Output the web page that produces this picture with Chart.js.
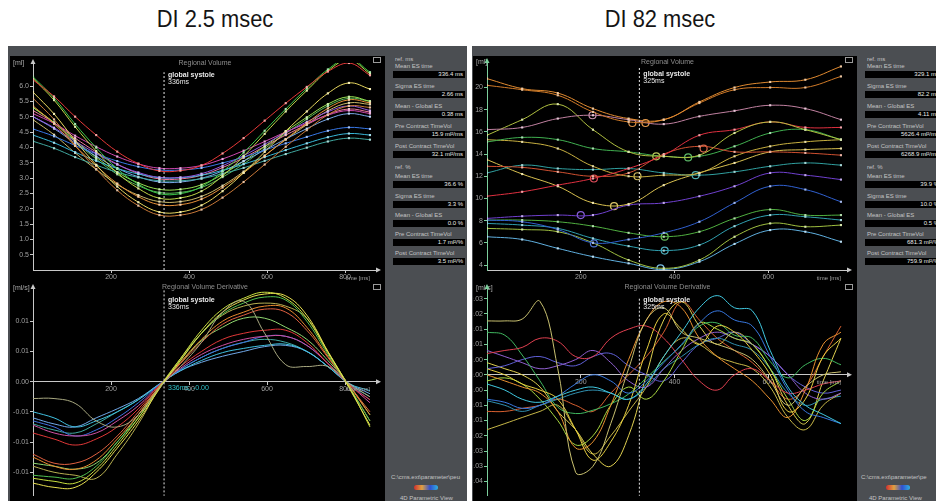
<!DOCTYPE html>
<html><head><meta charset="utf-8">
<script src="https://cdn.jsdelivr.net/npm/chart.js@4.4.1/dist/chart.umd.min.js"></script>
<style>
body{margin:0;width:936px;height:501px;background:#fff;position:relative;overflow:hidden;font-family:"Liberation Sans",Arial,sans-serif;}
.title{position:absolute;top:6px;width:240px;text-align:center;font-size:23px;color:#151515;transform:scaleX(0.95);}
.frame{position:absolute;background:#4b4e52;}
.black{position:absolute;background:#000;}
canvas{position:absolute;}
.lab{position:absolute;font-size:6px;line-height:7px;color:#c4c4c4;white-space:nowrap;}
.box{position:absolute;height:7px;background:#000;color:#eaeaea;font-size:6px;line-height:7px;text-align:right;box-sizing:border-box;padding-right:2px;white-space:nowrap;overflow:hidden;}
.logo{position:absolute;width:24px;height:5px;border-radius:3px;background:linear-gradient(90deg,#d03030,#e0a040,#3050d0,#30b0e0);}
</style></head>
<body>
<div class="title" style="left:95px">DI 2.5 msec</div>
<div class="title" style="left:540px">DI 82 msec</div>
<div class="frame" style="left:8px;top:46px;width:459px;height:455px"></div>
<div class="frame" style="left:472px;top:46px;width:464px;height:455px"></div>
<div class="black" style="left:10px;top:56px;width:375px;height:445px"></div>
<div class="black" style="left:473px;top:56px;width:384px;height:445px"></div>
<canvas id="lv" width="375" height="227" style="left:10px;top:55px"></canvas>
<canvas id="ld" width="375" height="219" style="left:10px;top:282px"></canvas>
<canvas id="rv" width="384" height="227" style="left:473px;top:55px"></canvas>
<canvas id="rd" width="384" height="219" style="left:473px;top:282px"></canvas>
<div id="side"></div>
<script>
// ---------------- DATA ----------------
// Left (DI 2.5 msec) regional volume [ml], frames every 54 ms
const T_LV = [0,54,108,162,216,270,324,378,432,486,540,594,648,702,756,810,864];
const LV_RED     = [6.2,5.66,5.0,4.4,3.86,3.47,3.23,3.24,3.41,3.8,4.3,4.87,5.44,5.97,6.47,6.75,6.35];
const LV_GREEN   = [6.3,5.61,4.76,3.99,3.3,2.8,2.49,2.49,2.72,3.21,3.83,4.54,5.25,5.92,6.54,6.9,6.45];
const LV_YGREEN  = [6.25,5.54,4.67,3.88,3.17,2.66,2.34,2.35,2.57,3.07,3.71,4.44,5.17,5.85,6.49,6.85,6.4];
const LV_YELLOW  = [5.8,5.09,4.22,3.43,2.72,2.21,1.89,1.89,2.11,2.57,3.17,3.85,4.53,5.17,5.76,6.1,5.9];
const LV_ORANGE  = [5.35,4.77,4.05,3.4,2.82,2.39,2.13,2.13,2.31,2.69,3.17,3.72,4.27,4.79,5.27,5.55,5.45];
const LV_BROWN   = [5.6,4.91,4.06,3.29,2.6,2.1,1.79,1.79,1.97,2.36,2.87,3.44,4.02,4.56,5.06,5.35,5.3];
const LV_MAGENTA = [5.1,4.78,4.38,4.02,3.7,3.46,3.32,3.32,3.41,3.62,3.89,4.19,4.5,4.78,5.05,5.2,5.1];
const LV_PURPLE  = [5.0,4.64,4.2,3.8,3.44,3.18,3.02,3.02,3.14,3.4,3.73,4.1,4.48,4.83,5.16,5.35,5.2];
const LV_BLUE    = [4.6,4.36,4.06,3.79,3.55,3.37,3.26,3.26,3.33,3.49,3.68,3.91,4.13,4.34,4.54,4.65,4.6];
const LV_CYAN    = [4.4,4.15,3.84,3.56,3.31,3.13,3.01,3.01,3.09,3.25,3.45,3.68,3.91,4.13,4.33,4.45,4.4];
const LV_TEAL    = [4.2,3.97,3.68,3.42,3.19,3.02,2.91,2.91,2.98,3.14,3.33,3.56,3.78,3.99,4.19,4.3,4.25];
const LV_LBLUE   = [5.0,4.61,4.14,3.71,3.32,3.04,2.87,2.87,2.99,3.23,3.55,3.91,4.27,4.61,4.92,5.1,5.0];
const LV_LIME    = [5.3,4.81,4.22,3.68,3.19,2.84,2.63,2.63,2.78,3.12,3.55,4.03,4.52,4.98,5.41,5.65,5.5];
const LV_KHAKI   = [4.9,4.41,3.82,3.28,2.79,2.44,2.23,2.23,2.4,2.75,3.21,3.73,4.25,4.74,5.19,5.45,5.4];
const LV_PINK    = [5.2,4.8,4.3,3.85,3.45,3.15,2.97,2.97,3.09,3.34,3.66,4.03,4.4,4.74,5.07,5.25,5.15];
const LV_GREEN2  = [5.3,4.8,4.18,3.62,3.12,2.75,2.53,2.53,2.69,3.03,3.46,3.96,4.45,4.92,5.35,5.6,5.5];
const LV_SERIES = [LV_RED,LV_GREEN,LV_YGREEN,LV_YELLOW,LV_ORANGE,LV_BROWN,LV_MAGENTA,LV_PURPLE,LV_BLUE,LV_CYAN,LV_TEAL,LV_LBLUE,LV_LIME,LV_KHAKI,LV_PINK,LV_GREEN2];

// Left regional volume derivative [x 1e-3 ml/ms]
const LD_GRAY    = [-2.8,-2.8,-3.6,-6.5,-7.5,-5.5,-1.0,2.5,6.5,11.5,13.3,8,2.8,2.5,2.5,-0.3,-2.5];
const LD_YELLOW  = [-16.8,-17.5,-17.5,-15,-11,-6.5,-1.2,3.5,8,11.5,13.5,14.5,14.2,11,5,-1,-7.2];
const LD_YGREEN  = [-16,-16.5,-16.8,-14.5,-10.5,-6,-1,3.8,8.5,12,13.8,14.8,13.8,10.5,4.8,-0.8,-7.5];
const LD_GREEN   = [-15.5,-15.8,-16,-14,-10,-6,-1,3.5,8,11.2,13,14,13.5,10,4.5,-0.8,-6.5];
const LD_ORANGE  = [-12.5,-14,-14.5,-13,-9.5,-5.5,-0.8,3.2,7,10,11.5,12.5,12.2,9,4.2,-0.6,-5.5];
const LD_REDOR   = [-12,-13.5,-13.5,-12,-9,-5,-0.8,3,6.5,9.5,11,12,11.5,8.5,4,-0.6,-5];
const LD_LGREEN  = [-13.5,-14,-14.5,-13.5,-10,-5.5,-0.8,3,6.8,9,10.5,10.5,9,7,3.5,-0.5,-5.5];
const LD_RED     = [-8.5,-9.5,-10.5,-9.5,-7.5,-4.5,-0.6,2.5,5,7,8,8.5,8.5,6.5,3,-0.5,-3];
const LD_MAGENTA = [-7.2,-8.5,-9,-8.5,-6.5,-4,-0.6,2.2,4.5,6,7,7.5,7.5,6,3,-0.4,-3.5];
const LD_BLUE    = [-6.5,-7.5,-9,-8,-6,-3.5,-0.5,2,4,5.5,6.5,7.5,7.5,6,3,-0.4,-3];
const LD_CYAN    = [-5,-6,-7.5,-6.5,-5,-3,-0.4,1.8,3.5,4.8,5.5,6,6.2,5,2.5,-0.3,-1.5];
const LD_LBLUE   = [-6,-7,-7.5,-6,-4.5,-2.8,-0.4,1.8,3.2,4.2,5,5.8,6,5,2.5,-0.3,-2];
const LD_TEAL    = [-7,-8,-8.5,-7,-5,-3,-0.5,2,4,5.5,6.5,7,6.5,5,2.5,-0.4,-2.5];
const LD_OLIVE   = [-14,-15,-15.5,-16,-12,-7,-1,3.8,8,11,12.5,13,12.5,10.5,5,-0.8,-6.5];
const LD_SERIES = [LD_GRAY,LD_YELLOW,LD_YGREEN,LD_GREEN,LD_ORANGE,LD_REDOR,LD_LGREEN,LD_RED,LD_MAGENTA,LD_BLUE,LD_CYAN,LD_LBLUE,LD_TEAL,LD_OLIVE];

// Right (DI 82 msec) regional volume [ml], frames every ~75.5 ms
const T_RV = [0,75,151,226,302,377,453,528,604,679,755];
const RV_ORANGE1 = [20.8,19.9,19.5,18.1,17.2,17.1,18.7,20.0,20.5,20.7,21.9];
const RV_ORANGE2 = [20.2,19.8,19.3,17.8,16.9,17.1,18.6,19.8,20.0,20.0,21.0];
const RV_MAUVE   = [16.2,16.4,17.2,17.5,17.1,16.7,17.4,17.9,18.4,18.1,17.1];
const RV_YGREEN  = [15.7,17.1,18.5,16.2,14.2,13.8,13.9,15.9,16.9,16.2,15.3];
const RV_RED     = [10.2,10.6,11.2,11.8,12.7,13.9,15.7,16.2,16.9,16.4,16.4];
const RV_REDOR   = [12.9,12.8,12.4,12.0,12.3,14.0,14.7,14.2,14.2,14.1,13.9];
const RV_GREEN   = [15.1,15.5,15.3,14.5,14.2,13.8,13.8,14.7,15.9,16.2,15.3];
const RV_OLIVE   = [15.3,15.1,14.5,12.9,12.0,12.1,12.3,13.8,14.7,15.1,15.3];
const RV_TEAL    = [12.3,13.0,12.7,12.6,12.7,12.3,12.1,12.4,12.9,13.2,13.0];
const RV_YELLOW  = [13.5,12.2,11.1,9.6,9.5,11.2,12.3,13.2,14.2,14.4,14.5];
const RV_PURPLE  = [8.2,8.4,8.5,8.5,9.4,9.6,10.2,11.1,12.3,12.1,11.7];
const RV_BLUE    = [8.05,7.9,7.2,6.0,6.3,6.9,7.9,9.6,11.1,10.8,9.7];
const RV_GREEN2  = [8.05,8.05,7.9,7.5,6.9,6.55,7.0,8.2,9.0,8.5,8.5];
const RV_TEAL2   = [7.75,7.6,7.3,6.4,5.7,5.3,5.8,7.5,8.5,8.35,8.05];
const RV_YGREEN2 = [7.3,7.2,7.0,6.0,4.45,3.7,4.45,6.55,7.75,7.45,7.6];
const RV_LBLUE   = [6.55,6.3,5.5,4.75,4.15,3.6,4.3,5.9,7.15,7.0,6.1];
const RV_SERIES = [RV_ORANGE1,RV_ORANGE2,RV_MAUVE,RV_YGREEN,RV_RED,RV_REDOR,RV_GREEN,RV_OLIVE,RV_TEAL,RV_YELLOW,RV_PURPLE,RV_BLUE,RV_GREEN2,RV_TEAL2,RV_YGREEN2,RV_LBLUE];
// end-systole markers (time, volume, series index)
const RV_ES_T = [225,310,338,228,321,361,429,462,271,200,228,379,379,370,445];
const RV_ES_V = [17.5,16.8,16.8,11.8,12.0,13.8,13.7,14.5,9.3,8.5,5.95,6.55,5.3,3.7,12.1];
const RV_ES_S = [2,1,0,4,7,3,6,5,9,10,11,12,13,15,8];

// Right regional volume derivative [x 1e-3 ml/ms]
const T_RD = [0,38,75,113,151,189,226,264,302,340,377,415,453,491,528,566,604,642,679,717,755];
const RD_KHAKI   = [17.7,17.7,18.3,24.1,2,-32,-30,-16,2,18,22,14,12,10,8,5,-2,-10,-4,0,1];
const RD_CYAN    = [-3,-5,-8,-9,-7,-5,-4,-6,-8,-3,6,14,22,26,22,21,8,-4,-10,-13,-16];
const RD_BLUE    = [-8,-9,-11,-10,-7,-3,0,-2,-6,-2,4,10,17,21,18,16,6,-5,-12,-14,-16];
const RD_ORANGE  = [0,-2,-4,-6,-12,-24,-22,-10,5,18,24,22,12,6,2,-2,-8,-14,-5,10,14];
const RD_YELLOW  = [2,0,-3,-5,-8,-18,-28,-22,-10,8,20,15,10,16,14,8,0,-12,-8,6,12];
const RD_RED     = [7,8,9,12,11,6,6,12,15,16,12,5,-2,-5,0,2,-2,-6,-5,-3,-2];
const RD_GREEN   = [14,13,6.5,-2,-10.6,-12.7,-11.6,-9.5,-6.3,-1,4.4,9.7,16,17,13,12,4.4,-1,3.3,5.4,3.3];
const RD_LIME    = [-2,-1,-3,-8,-15,-23,-20,-10,-4,-8,-2,8,17,15,12,10,2,-8,-15,-6,-2];
const RD_VIOLET  = [8,6,4,2,3,5,8,4,-2,-4,2,8,12,14,12,10,6,0,-6,-8,-6];
const RD_OLIVE   = [-18,-16,-14,-12,-10,-18,-26,-20,-12,-4,6,12,10,6,4,2,-4,-14,-18,-10,-6];
const RD_TEAL    = [-8.5,-10,-12,-10,-8,-6,-5,-6,-8,-4,2,6,10,12,10,8,2,-6,-10,-8,-7];
const RD_INDIGO  = [2,3,5,6,4,3,6,7,3,0,-2,4,10,12,14,10,6,0,-4,-6,-5];
const RD_YELLOW2 = [4,2,0,-4,-12,-18,-26,-30,-20,0,18,24,16,10,14,10,2,-10,-16,-2,12];
const RD_DORANGE = [-12,-12,-11,-10,-8,-10,-12,-6,0,6,14,24,18,12,8,4,-2,-8,-4,6,16];
const RD_SERIES = [RD_KHAKI,RD_CYAN,RD_BLUE,RD_ORANGE,RD_YELLOW,RD_RED,RD_GREEN,RD_LIME,RD_VIOLET,RD_OLIVE,RD_TEAL,RD_INDIGO,RD_YELLOW2,RD_DORANGE];

// global systole times [ms]
const GS_LEFT = 336, GS_RIGHT = 325;

// tick labels
const X_TICKS_L = [200,400,600,800], X_LABELS_L = ['200','400','600','800'];
const X_TICKS_R = [200,400,600],     X_LABELS_R = ['200','400','600'];
const LV_YTICKS = [0.5,1,1.5,2,2.5,3,3.5,4,4.5,5,5.5,6];
const LV_YLABELS = ['0.5','1.0','1.5','2.0','2.5','3.0','3.5','4.0','4.5','5.0','5.5','6.0'];
const LD_YTICKS = [10,5,0,-5,-10,-15];
const LD_YLABELS = ['0.01','0.01','0.00','-0.01','-0.01','-0.01'];
const RV_YTICKS = [4,6,8,10,12,14,16,18,20];
const RV_YLABELS = ['4','6','8','10','12','14','16','18','20'];
const RD_YTICKS = [25,20,15,10,5,0,-5,-10,-15,-20,-25,-30,-35];
const RD_YLABELS = ['0.03','0.02','0.01','0.01','0.00','0.00','-0.00','-0.01','-0.01','-0.02','-0.03','-0.03','-0.04'];

// side panel texts
const SIDE_LABELS = ['Mean ES time','Sigma ES time','Mean - Global ES','Pre Contract TimeVol','Post Contract TimeVol'];
const L_MS_VALUES  = ['336.4 ms','2.66 ms','0.38 ms','15.9 ml²/ms','32.1 ml²/ms'];
const L_PCT_VALUES = ['36.6 %','3.3 %','0.0 %','1.7 ml²/%','3.5 ml²/%'];
const R_MS_VALUES  = ['329.1 ms','82.2 ms','4.11 ms','5626.4 ml²/ms','6268.9 ml²/ms'];
const R_PCT_VALUES = ['39.9 %','10.0 %','0.5 %','681.3 ml²/%','759.9 ml²/%'];

// ---------------- STYLE ----------------
const LV_COLORS = ['#e83838','#3cc84a','#c0d848','#e8d860','#e89038','#c87838','#d048b0','#9058e0','#3878e8','#38b8d8','#40a8a0','#78a8e8','#98e050','#c8b868','#e87898','#58b858'];
const LD_COLORS = ['#a8a880','#e8e050','#c8e040','#50c050','#e88a30','#e06040','#90d870','#e03838','#d050a0','#4070e0','#40c0e0','#70a8e8','#40a8a0','#b8b050'];
const RV_COLORS = ['#e08a30','#d07a28','#c080a0','#b0c040','#e03040','#d05030','#40b050','#c8b040','#30a0a0','#d8c050','#7040d0','#3060d0','#50b040','#30a0b0','#a0c040','#60b0e0'];
const RD_COLORS = ['#c8c070','#40c8e0','#3878e0','#e89030','#e8d040','#e04050','#40b860','#a8d840','#9060d0','#c8b848','#3090b0','#6060d8','#e0d050','#d86030'];

Chart.defaults.font.family = '"Liberation Sans", Arial, sans-serif';
Chart.defaults.animation = false;

function lighten(hex, f){
  const n = parseInt(hex.slice(1),16);
  const r = n>>16, g = (n>>8)&255, b = n&255;
  const m = c => Math.round(c + (255-c)*f);
  return 'rgb('+m(r)+','+m(g)+','+m(b)+')';
}
function pts(ts, vs){ return vs.map((v,i)=>({x:ts[i], y:v})); }
function lineSet(ts, vs, color, marker){
  return {data:pts(ts,vs), borderColor:color, borderWidth:1, tension:0.4, fill:false,
    pointRadius: marker?1.5:0, pointStyle:'rect', pointBackgroundColor:lighten(color,0.55), pointBorderWidth:0};
}
function gsSet(x, y0, y1){
  return {data:[{x:x,y:y0},{x:x,y:y1}], borderColor:'#e6e6e6', borderWidth:1, borderDash:[2,2], pointRadius:0, tension:0, fill:false};
}
function lookup(vals, labels, v){
  for (let i=0;i<vals.length;i++) if (Math.abs(vals[i]-v) < 1e-6) return labels[i];
  return null;
}
function xScale(max, tv, tl, atZero, axisColor){
  const s = {type:'linear', axis:'x', min:0, max:max,
    border:{display:true, color:axisColor, width:1},
    grid:{display:true, drawOnChartArea:false, drawTicks:true, tickLength:3, color:axisColor},
    ticks:{autoSkip:false, includeBounds:false, stepSize:100, padding:0, color:'#a0a0a0', font:{size:7}, maxRotation:0,
      callback:v => lookup(tv, tl, v)}};
  if (atZero) { s.position = {y:0}; }
  else { s.position = 'bottom'; s.afterFit = sc => { sc.height = 12; }; }
  return s;
}
function yScale(min, max, step, tv, tl, width, axisColor){
  return {type:'linear', min:min, max:max, position:'left',
    afterFit: sc => { sc.width = width; },
    border:{display:true, color:axisColor, width:1},
    grid:{display:true, drawOnChartArea:false, drawTicks:true, tickLength:3, color:axisColor},
    ticks:{autoSkip:false, includeBounds:false, stepSize:step, padding:1, color:'#a0a0a0', font:{size:7},
      callback:v => lookup(tv, tl, v)}};
}

const decoPlugin = {
  id:'deco',
  afterDatasetsDraw(chart, args, o){
    if (!o || !o.title) return;
    const ctx = chart.ctx, a = chart.chartArea, xs = chart.scales.x, ys = chart.scales.y;
    const W = chart.width;
    ctx.save();
    ctx.textBaseline = 'middle';
    ctx.fillStyle = '#8e8e8e'; ctx.font = '7px "Liberation Sans", Arial'; ctx.textAlign = 'center';
    ctx.fillText(o.title, (a.left+a.right)/2, o.titleY);
    ctx.textAlign = 'left'; ctx.fillStyle = '#a8a8a8';
    ctx.fillText(o.unit, 3, a.top);
    const gx = xs.getPixelForValue(o.gs);
    ctx.fillStyle = '#e8e8e8'; ctx.font = 'bold 7px "Liberation Sans", Arial';
    ctx.fillText('global systole', gx+4, a.top+12);
    ctx.font = '7px "Liberation Sans", Arial';
    ctx.fillText(o.gsLabel, gx+4, a.top+19);
    const y0 = o.atZero ? ys.getPixelForValue(0) : a.bottom;
    ctx.fillStyle = o.axisColor;
    ctx.beginPath(); ctx.moveTo(a.left-2.5, a.top+1); ctx.lineTo(a.left+2.5, a.top+1); ctx.lineTo(a.left, a.top-4); ctx.fill();
    ctx.fillStyle = '#c8c8c8';
    ctx.beginPath(); ctx.moveTo(a.right-1, y0-2.5); ctx.lineTo(a.right-1, y0+2.5); ctx.lineTo(a.right+4, y0); ctx.fill();
    ctx.fillStyle = '#a0a0a0'; ctx.font = '6px "Liberation Sans", Arial'; ctx.textAlign = 'right';
    ctx.fillText('time [ms]', a.right-7, y0+8);
    if (o.zeroText){
      ctx.textAlign = 'left'; ctx.fillStyle = '#30c0c8'; ctx.font = '7px "Liberation Sans", Arial';
      ctx.fillText(o.zeroText, gx+4, y0+6);
    }
    ctx.strokeStyle = '#9a9a9a'; ctx.lineWidth = 1;
    ctx.strokeRect(W-11.5, 2.5, 7, 5);
    ctx.restore();
  }
};
Chart.register(decoPlugin);

function makeChart(id, datasets, xs, ys, pad, deco){
  return new Chart(document.getElementById(id), {
    type:'line',
    data:{datasets:datasets},
    options:{responsive:false, devicePixelRatio:1, animation:false,
      layout:{padding:pad},
      plugins:{legend:{display:false}, tooltip:{enabled:false}, title:{display:false}, deco:deco},
      scales:{x:xs, y:ys}}
  });
}

// ---- Left volume
{
  const ds = LV_SERIES.map((s,i)=>lineSet(T_LV, s, LV_COLORS[i], true));
  ds.unshift(gsSet(GS_LEFT, 0, 6.45));
  makeChart('lv', ds, xScale(882, X_TICKS_L, X_LABELS_L, false, '#c8c8c8'),
    yScale(0, 6.75, 0.5, LV_YTICKS, LV_YLABELS, 23, '#c8c8c8'),
    {top:8, right:8, left:0, bottom:0},
    {title:'Regional Volume', titleY:8, unit:'[ml]', gs:GS_LEFT, gsLabel:'336ms', atZero:false, axisColor:'#c8c8c8'});
}
// ---- Left derivative
{
  const ds = LD_SERIES.map((s,i)=>lineSet(T_LV, s, LD_COLORS[i], false));
  ds.unshift(gsSet(GS_LEFT, -19, 15.2));
  makeChart('ld', ds, xScale(882, X_TICKS_L, X_LABELS_L, true, '#c8c8c8'),
    yScale(-18.9, 15.5, 5, LD_YTICKS, LD_YLABELS, 23, '#c8c8c8'),
    {top:6, right:8, left:0, bottom:0},
    {title:'Regional Volume Derivative', titleY:5, unit:'[ml/s]', gs:GS_LEFT, gsLabel:'336ms', atZero:true, axisColor:'#c8c8c8', zeroText:'336ms, -0.00'});
}
// ---- Right volume
{
  const ds = RV_SERIES.map((s,i)=>lineSet(T_RV, s, RV_COLORS[i], true));
  ds.unshift(gsSet(GS_RIGHT, 3.55, 21.8));
  const es = RV_ES_T.map((t,i)=>({x:t, y:RV_ES_V[i]}));
  ds.push({data:es, showLine:false, pointRadius:3.5, pointStyle:'circle', pointBorderWidth:1.2,
    pointBackgroundColor:'rgba(0,0,0,0)', pointBorderColor:RV_ES_S.map(k=>lighten(RV_COLORS[k],0.15))});
  makeChart('rv', ds, xScale(770, X_TICKS_R, X_LABELS_R, false, '#c8c8c8'),
    yScale(3.55, 22.3, 2, RV_YTICKS, RV_YLABELS, 14, '#7ccf9c'),
    {top:7, right:9, left:0, bottom:0},
    {title:'Regional Volume', titleY:7, unit:'[ml]', gs:GS_RIGHT, gsLabel:'325ms', atZero:false, axisColor:'#7ccf9c'});
}
// ---- Right derivative
{
  const ds = RD_SERIES.map((s,i)=>lineSet(T_RD, s, RD_COLORS[i], false));
  ds.unshift(gsSet(GS_RIGHT, -40, 25.6));
  makeChart('rd', ds, xScale(770, X_TICKS_R, X_LABELS_R, true, '#c8c8c8'),
    yScale(-39.7, 28.5, 5, RD_YTICKS, RD_YLABELS, 14, '#7ccf9c'),
    {top:6, right:9, left:0, bottom:0},
    {title:'Regional Volume Derivative', titleY:5, unit:'[ml/s]', gs:GS_RIGHT, gsLabel:'325ms', atZero:true, axisColor:'#7ccf9c'});
}

// ---- side panels
function side(x0, w, msVals, pctVals){
  const root = document.getElementById('side');
  const add = (cls, x, y, txt, width) => {
    const d = document.createElement('div'); d.className = cls;
    d.style.left = x+'px'; d.style.top = y+'px'; if (width) d.style.width = width+'px';
    d.textContent = txt; root.appendChild(d);
  };
  const lab1 = [63,83,103,123,143], box1 = [71,91,111,131,151];
  const lab2 = [173,193,212,231,250], box2 = [181,201,220,239,258];
  add('lab', x0+2, 56, 'ref. ms');
  SIDE_LABELS.forEach((l,i)=>{ add('lab', x0+2, lab1[i], l); add('box', x0, box1[i], msVals[i], w); });
  add('lab', x0+2, 164, 'ref. %');
  SIDE_LABELS.forEach((l,i)=>{ add('lab', x0+2, lab2[i], l); add('box', x0, box2[i], pctVals[i], w); });
}
side(393, 72, L_MS_VALUES, L_PCT_VALUES);
side(865, 76, R_MS_VALUES, R_PCT_VALUES);
{
  const root = document.getElementById('side');
  const mk = (html) => { const d = document.createElement('div'); d.innerHTML = html; root.appendChild(d.firstChild); };
  mk('<div class="lab" style="left:391px;top:474px;width:75px;overflow:hidden">C:\\cms.ext\\parameter\\peu</div>');
  mk('<div class="logo" style="left:414px;top:485px"></div>');
  mk('<div class="lab" style="left:400px;top:495px">4D Parametric View</div>');
  mk('<div class="lab" style="left:861px;top:474px">C:\\cms.ext\\parameter\\pe</div>');
  mk('<div class="logo" style="left:886px;top:485px"></div>');
  mk('<div class="lab" style="left:869px;top:495px">4D Parametric View</div>');
}
</script>
</body></html>
